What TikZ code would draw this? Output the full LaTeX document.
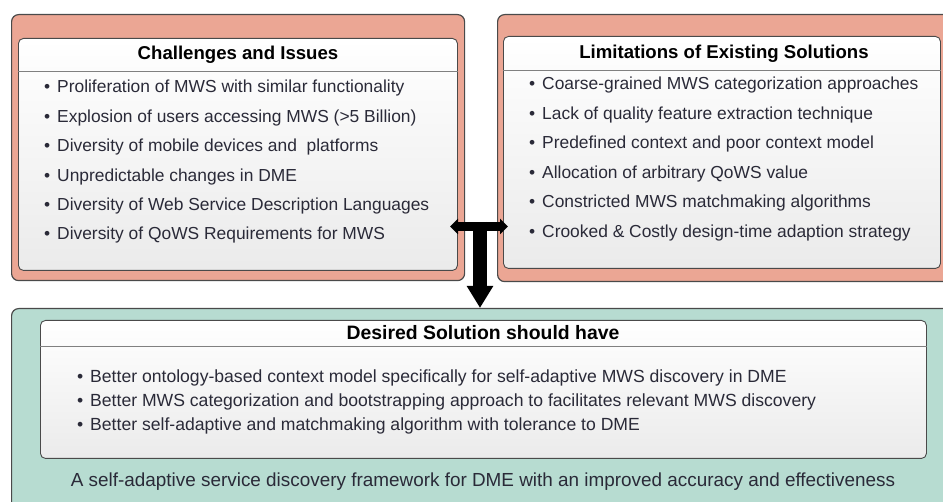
\documentclass[tikz,border=0pt]{standalone}
\usepackage{fontspec}
\setmainfont{Liberation Sans}
\usetikzlibrary{arrows.meta}
\definecolor{salmon}{HTML}{EBA694}
\definecolor{mint}{HTML}{B7DCD1}
\definecolor{edgegray}{HTML}{4A4A4A}
\definecolor{txt}{HTML}{2A2A38}
\begin{document}
\begin{tikzpicture}[x=1pt,y=-1pt,
  outerbox/.style={draw=edgegray, line width=1.2pt, rounded corners=7pt, anchor=north west, inner sep=0pt},
  innerbox/.style={draw=edgegray, line width=0.9pt, rounded corners=5pt, anchor=north west, inner sep=0pt,
                   top color=white, middle color=white, bottom color=black!8},
  hdrline/.style={draw=gray, line width=0.9pt},
  ttl/.style={font=\fontsize{18.6}{20}\selectfont\bfseries, text=black, anchor=base, inner sep=0pt},
  item/.style={font=\fontsize{17.4}{20}\selectfont, text=txt, anchor=base west, inner sep=0pt},
  conn/.style={line width=9pt, draw=black, {Triangle[length=8pt,width=15pt]}-{Triangle[length=8pt,width=15pt]}},
  downarrow/.style={line width=14pt, draw=black, -{Triangle[length=22pt,width=25pt]}},
]
\useasboundingbox (0,0) rectangle (943,502);
\clip (0,0) rectangle (943,502);

% outer boxes
\node[outerbox, fill=salmon, minimum width=453pt, minimum height=266pt] (lout) at (11,14) {};
\node[outerbox, fill=salmon, minimum width=470pt, minimum height=267pt] (rout) at (497,14) {};
\node[outerbox, fill=mint, minimum width=960pt, minimum height=220pt] (gout) at (11,308) {};

% inner boxes
\node[innerbox, minimum width=439pt, minimum height=232pt] (lin) at (18,38) {};
\node[innerbox, minimum width=437pt, minimum height=232pt] (rin) at (503,36) {};
\node[innerbox, minimum width=886pt, minimum height=138pt] (gin) at (40,320) {};

\draw[hdrline] (lin.west |- 0,71) -- (lin.east |- 0,71);
\draw[hdrline] (rin.west |- 0,70) -- (rin.east |- 0,70);
\draw[hdrline] (gin.west |- 0,346) -- (gin.east |- 0,346);

% titles
\node[ttl] (ltitle) at (238,60) {Challenges and Issues};
\node[ttl] (rtitle) at (724,59) {Limitations of Existing Solutions};
\node[ttl, font=\fontsize{19.4}{20}\selectfont\bfseries] (gtitle) at (483,339.5) {Desired Solution should have};

% left items
\foreach \t [count=\i] in {
  Proliferation of MWS with similar functionality,
  Explosion of users accessing MWS (>5 Billion),
  Diversity of mobile devices and \ platforms,
  Unpredictable changes in DME,
  Diversity of Web Service Description Languages,
  Diversity of QoWS Requirements for MWS}
  \node[item] (litem\i) at (44,{93+29.4*(\i-1)}) {\makebox[13pt][l]{•}\t};

% right items
\foreach \t [count=\i] in {
  Coarse-grained MWS categorization approaches,
  Lack of quality feature extraction technique,
  Predefined context and poor context model,
  Allocation of arbitrary QoWS value,
  Constricted MWS matchmaking algorithms,
  Crooked \& Costly design-time adaption strategy}
  \node[item] (ritem\i) at (529,{90+29.5*(\i-1)}) {\makebox[13pt][l]{•}\t};

% bottom items
\foreach \t [count=\i] in {
  Better ontology-based context model specifically for self-adaptive MWS discovery in DME,
  Better MWS categorization and bootstrapping approach to facilitates relevant MWS discovery,
  Better self-adaptive and matchmaking algorithm with tolerance to DME}
  \node[item, font=\fontsize{17.6}{20}\selectfont] (gitem\i) at (77,{383+24*(\i-1)}) {\makebox[13pt][l]{•}\t};

\node[item, anchor=base, font=\fontsize{18.9}{20}\selectfont] (gfoot) at (483,487) {A self-adaptive service discovery framework for DME with an improved accuracy and effectiveness};

% connectors
\coordinate (barL) at (450,226.5);
\coordinate (barR) at (508,226.5);
\coordinate (stem) at (480,222);
\draw[conn] (barL) -- (barR);
\draw[downarrow] (stem) -- (stem |- gout.north);
\end{tikzpicture}
\end{document}
